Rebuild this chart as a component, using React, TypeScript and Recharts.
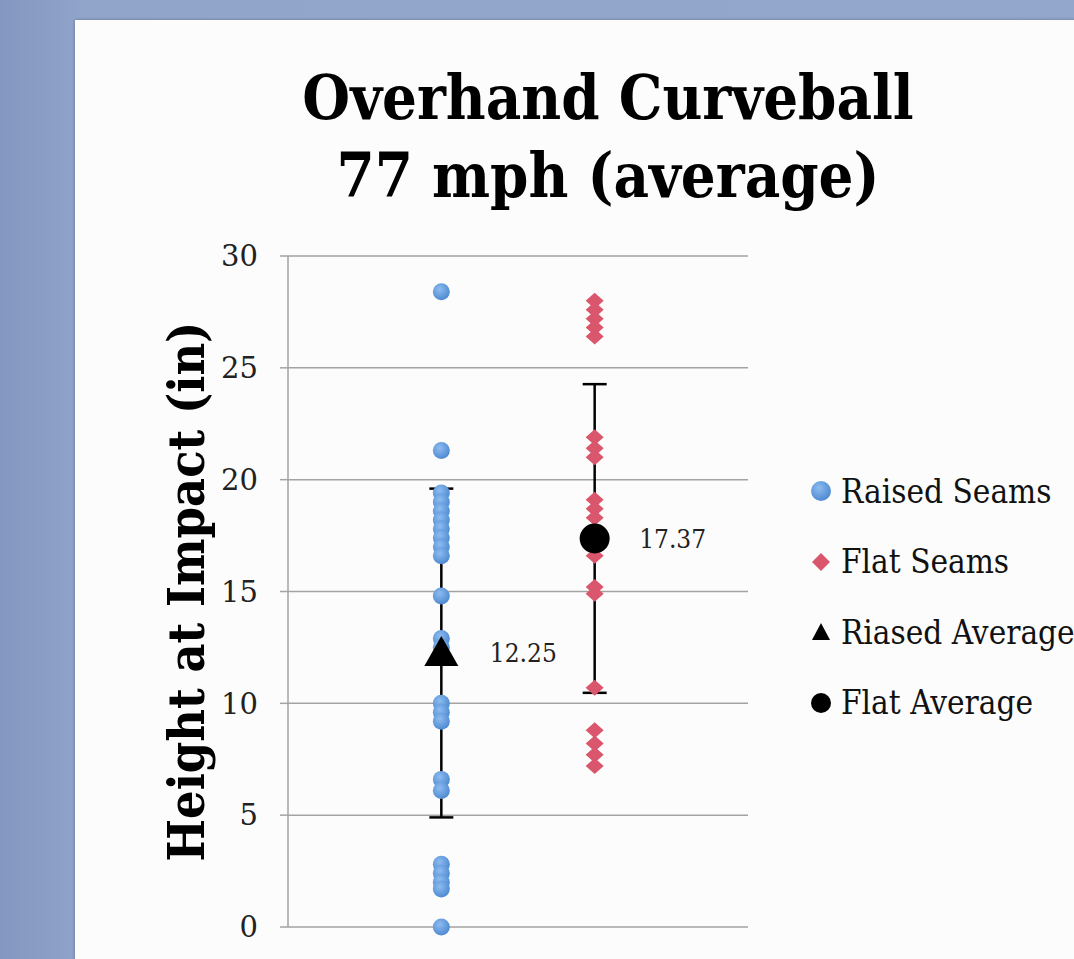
import React from 'react';
import { ScatterChart, Scatter, XAxis, YAxis, CartesianGrid, ErrorBar, LabelList, Legend } from 'recharts';

const seriesNames = ['Raised Seams', 'Flat Seams', 'Riased Average', 'Flat Average'];
const raisedX = 1;
const flatX = 2;
const raisedY = [28.4, 21.3, 19.4, 19.0, 18.6, 18.2, 17.8, 17.4, 17.0, 16.6, 14.8, 12.9, 12.5, 10.0, 9.6, 9.2, 6.6, 6.1, 2.8, 2.4, 2.0, 1.7, 0.0];
const flatY = [28.0, 27.6, 27.2, 26.8, 26.4, 21.9, 21.4, 21.0, 19.1, 18.7, 18.3, 16.6, 15.2, 14.9, 10.7, 8.8, 8.2, 7.7, 7.2];
const averageY = [12.25, 17.37];
const averageErr = [7.35, 6.9];
const yTicks = [0, 5, 10, 15, 20, 25, 30];
const titleLines = ['Overhand Curveball', '77 mph (average)'];
const yLabel = 'Height at Impact (in)';

const raisedData = raisedY.map((y) => ({ x: raisedX, y }));
const flatData = flatY.map((y) => ({ x: flatX, y }));
const raisedAvg = [{ x: raisedX, y: averageY[0], err: averageErr[0] }];
const flatAvg = [{ x: flatX, y: averageY[1], err: averageErr[1] }];

const SERIF = "'DejaVu Serif Condensed', 'DejaVu Serif', serif";

const BlueDot = (p: any) => (
  <g>
    <circle cx={p.cx} cy={p.cy} r={8.5} fill="url(#blueGrad)" />
  </g>
);
const RedDiamond = (p: any) => (
  <path d={`M${p.cx},${p.cy - 8} L${p.cx + 9},${p.cy} L${p.cx},${p.cy + 8} L${p.cx - 9},${p.cy} Z`} fill="#d9566c" />
);
const Triangle = (p: any) => (
  <path d={`M${p.cx},${p.cy - 17} L${p.cx + 17},${p.cy + 13} L${p.cx - 17},${p.cy + 13} Z`} fill="#000" />
);
const BigDot = (p: any) => <circle cx={p.cx} cy={p.cy} r={15} fill="#000" />;

const legendIcons = [
  <circle cx={11} cy={11} r={10} fill="url(#legBlue)" />,
  <path d="M11,2 L20,11 L11,20 L2,11 Z" fill="#d9566c" />,
  <path d="M11,2 L20,19 L2,19 Z" fill="#000" />,
  <circle cx={11} cy={11} r={10} fill="#000" />,
];

const LegendContent = () => (
  <div style={{ fontFamily: SERIF, fontStretch: 'condensed', fontSize: 33, color: '#111' }}>
    <svg width={0} height={0} style={{ position: 'absolute' }}>
      <defs>
        <radialGradient id="legBlue" cx="40%" cy="35%" r="70%">
          <stop offset="0%" stopColor="#8dbcf0" />
          <stop offset="100%" stopColor="#4a86cf" />
        </radialGradient>
      </defs>
    </svg>
    {seriesNames.map((n, i) => (
      <div key={n} style={{ display: 'flex', alignItems: 'center', height: 70.5, whiteSpace: 'nowrap' }}>
        <svg width={22} height={22} style={{ marginRight: 9 }}>{legendIcons[i]}</svg>
        <span>{n}</span>
      </div>
    ))}
  </div>
);

export default function App() {
  return (
    <div style={{ position: 'absolute', left: 0, top: 0, width: 1074, height: 959, overflow: 'hidden', background: 'linear-gradient(90deg, #8397c0 0%, #91a4ca 8%, #93a6cb 100%)' }}>
      <div style={{ position: 'absolute', left: 75, top: 20, width: 1010, height: 950, background: '#fcfcfc', boxShadow: '0 0 3px rgba(0,0,0,0.3)' }} />
      <div style={{ position: 'absolute', left: 75, top: 59, width: 1066, textAlign: 'center', fontFamily: SERIF, fontStretch: 'condensed', fontWeight: 'bold', fontSize: 61, lineHeight: '78px', color: '#000' }}>
        {titleLines.map((t) => (
          <div key={t}>{t}</div>
        ))}
      </div>
      <div style={{ position: 'absolute', left: 0, top: 0 }}>
        <ScatterChart width={1074} height={959} margin={{ top: 256, right: 326, bottom: 32, left: 208 }}>
          <defs>
            <radialGradient id="blueGrad" cx="40%" cy="35%" r="70%">
              <stop offset="0%" stopColor="#8dbcf0" />
              <stop offset="100%" stopColor="#4a86cf" />
            </radialGradient>
          </defs>
          <CartesianGrid vertical={false} stroke="#a3a3a3" strokeWidth={1.5} />
          <XAxis type="number" dataKey="x" domain={[0, 3]} hide />
          <YAxis
            type="number"
            dataKey="y"
            domain={[0, 30]}
            ticks={yTicks}
            width={80}
            tickSize={8}
            tickMargin={22}
            axisLine={{ stroke: '#a3a3a3', strokeWidth: 1.5 }}
            tickLine={{ stroke: '#a3a3a3', strokeWidth: 1.5 }}
            tick={{ fontFamily: "'DejaVu Serif', serif", fontSize: 29, fill: '#222' }}
            label={{ value: yLabel, angle: -90, position: 'left', offset: 22, style: { fontFamily: SERIF, fontStretch: 'condensed', fontWeight: 'bold', fontSize: 50, fill: '#000', textAnchor: 'middle' } }}
          />
          <Scatter name={seriesNames[0]} data={raisedData} fill="#5b95d6" shape={BlueDot} isAnimationActive={false} />
          <Scatter name={seriesNames[1]} data={flatData} fill="#d9566c" shape={RedDiamond} isAnimationActive={false} />
          <Scatter name={seriesNames[2]} data={raisedAvg} fill="#000" shape={Triangle} isAnimationActive={false}>
            <ErrorBar dataKey="err" direction="y" width={12} stroke="#000" strokeWidth={2.5} />
            <LabelList dataKey="y" position="right" offset={44} formatter={(v: any) => Number(v).toFixed(2)} style={{ fontFamily: SERIF, fontSize: 26, fill: '#222' }} />
          </Scatter>
          <Scatter name={seriesNames[3]} data={flatAvg} fill="#000" shape={BigDot} isAnimationActive={false}>
            <ErrorBar dataKey="err" direction="y" width={12} stroke="#000" strokeWidth={2.5} />
            <LabelList dataKey="y" position="right" offset={40} formatter={(v: any) => Number(v).toFixed(2)} style={{ fontFamily: SERIF, fontSize: 26, fill: '#222' }} />
          </Scatter>
          <Legend layout="vertical" align="center" verticalAlign="middle" content={LegendContent} wrapperStyle={{ position: 'absolute', left: 810, top: 456, width: 300, height: 290 }} />
        </ScatterChart>
      </div>
    </div>
  );
}
